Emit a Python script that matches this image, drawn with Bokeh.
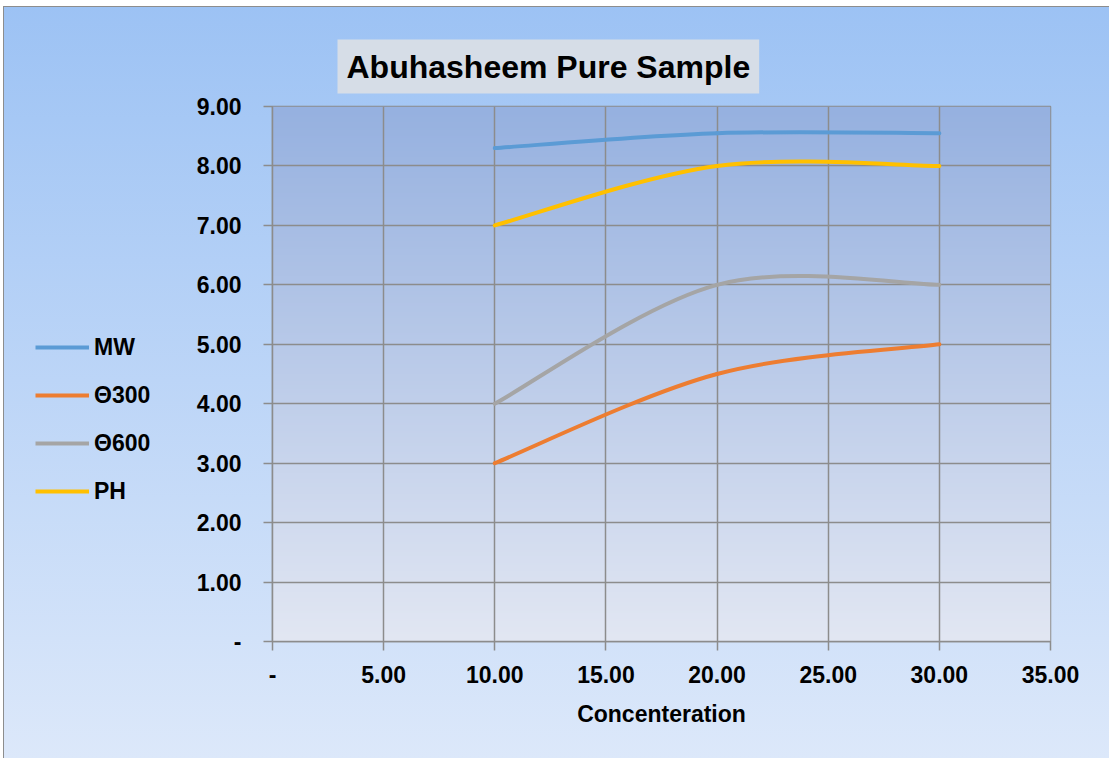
import numpy as np
from bokeh.plotting import figure
from bokeh.layouts import row
from bokeh.models import Range1d, FixedTicker, Legend, LegendItem, Title
from bokeh.embed import file_html
from bokeh.resources import INLINE

# ---------------- data ----------------
title_text = "Abuhasheem Pure Sample"
x_label = "Concenteration"
concentration = [10, 20, 30]
series_names = ["MW", "\u0398300", "\u0398600", "PH"]
mw = [8.30, 8.55, 8.55]
theta300 = [3.0, 4.5, 5.0]
theta600 = [4.0, 6.0, 6.0]
ph = [7.0, 8.0, 8.0]
x_ticks = [0, 5, 10, 15, 20, 25, 30, 35]
x_tick_labels = ["-", "5.00", "10.00", "15.00", "20.00", "25.00", "30.00", "35.00"]
y_ticks = [0, 1, 2, 3, 4, 5, 6, 7, 8, 9]
y_tick_labels = ["-", "1.00", "2.00", "3.00", "4.00", "5.00", "6.00", "7.00", "8.00", "9.00"]

colors = ["#5b9bd5", "#ed7d31", "#a5a5a5", "#ffc000"]
FONT = "Liberation Sans"
GRID = "#8c8c8c"

outer_bg = ("linear-gradient(#8d8d8d,#8d8d8d) 3px 6px / 1px 100% no-repeat, "
            "linear-gradient(#8d8d8d,#8d8d8d) 3px 6px / 100% 1px no-repeat, "
            "linear-gradient(#ffffff,#ffffff) 0 0 / 100% 6px no-repeat, "
            "linear-gradient(#ffffff,#ffffff) 0 0 / 3px 100% no-repeat, "
            "linear-gradient(#9cc2f4, #dce8fa)")

LEG_W = 180
W, H = 1109, 758

p = figure(width=W - LEG_W, height=H, output_backend="svg", toolbar_location=None,
           x_range=Range1d(x_ticks[0], x_ticks[-1]), y_range=Range1d(y_ticks[0], y_ticks[-1]),
           min_border_left=272 - LEG_W, min_border_right=59, min_border_top=106,
           min_border_bottom=117,
           border_fill_color=None, background_fill_color=None,
           outline_line_color=GRID, outline_line_width=1.5)

# plot-area gradient
n = 256
t = np.linspace(0, 1, n)[:, None]
top = np.array([0x96, 0xb1, 0xe0], dtype=float)
bot = np.array([0xe2, 0xe7, 0xf3], dtype=float)
cols = bot + (top - bot) * t
img = np.empty((n, 2), dtype=np.uint32)
view = img.view(dtype=np.uint8).reshape((n, 2, 4))
for k in range(3):
    view[:, :, k] = np.repeat(cols[:, k:k + 1], 2, axis=1).astype(np.uint8)
view[:, :, 3] = 255
p.image_rgba(image=[img], x=x_ticks[0], y=y_ticks[0],
             dw=x_ticks[-1] - x_ticks[0], dh=y_ticks[-1] - y_ticks[0], level="image")

# axes
for ax, ticks, labels in ((p.xaxis, x_ticks, x_tick_labels), (p.yaxis, y_ticks, y_tick_labels)):
    ax.ticker = FixedTicker(ticks=ticks)
    ax.major_label_overrides = dict(zip(ticks, labels))
    ax.major_label_text_font = FONT
    ax.major_label_text_font_style = "bold"
    ax.major_label_text_font_size = "23px"
    ax.major_label_text_color = "black"
    ax.axis_line_color = GRID
    ax.axis_line_width = 1.5
    ax.major_tick_line_color = GRID
    ax.major_tick_line_width = 1.5
    ax.major_tick_in = 0
    ax.major_tick_out = 9
    ax.minor_tick_line_color = None

p.yaxis.major_label_standoff = 22
p.xaxis.major_label_standoff = 15
p.xaxis.axis_label = x_label
p.xaxis.axis_label_text_font = FONT
p.xaxis.axis_label_text_font_style = "bold"
p.xaxis.axis_label_text_font_size = "23px"
p.xaxis.axis_label_text_color = "black"
p.xaxis.axis_label_standoff = 15

p.grid.grid_line_color = GRID
p.grid.grid_line_width = 1.5


def smooth_segments(xs, ys):
    """Bezier control points (Catmull-Rom style smoothing, like Excel's smoothed line)."""
    m = len(xs)
    x0, y0, x1, y1, cx0, cy0, cx1, cy1 = [], [], [], [], [], [], [], []
    for i in range(m - 1):
        pa = (xs[max(i - 1, 0)], ys[max(i - 1, 0)])
        p1 = (xs[i], ys[i])
        p2 = (xs[i + 1], ys[i + 1])
        pb = (xs[min(i + 2, m - 1)], ys[min(i + 2, m - 1)])
        x0.append(p1[0]); y0.append(p1[1]); x1.append(p2[0]); y1.append(p2[1])
        cx0.append(p1[0] + (p2[0] - pa[0]) / 6); cy0.append(p1[1] + (p2[1] - pa[1]) / 6)
        cx1.append(p2[0] - (pb[0] - p1[0]) / 6); cy1.append(p2[1] - (pb[1] - p1[1]) / 6)
    return dict(x0=x0, y0=y0, x1=x1, y1=y1, cx0=cx0, cy0=cy0, cx1=cx1, cy1=cy1)


# legend figure (left strip, no axes)
lf = figure(width=LEG_W, height=H, output_backend="svg", toolbar_location=None,
            x_axis_type=None, y_axis_type=None, min_border=0,
            border_fill_color=None, background_fill_color=None, outline_line_color=None)
lf.grid.visible = False

items = []
for name, ys, c in zip(series_names, [mw, theta300, theta600, ph], colors):
    seg = smooth_segments(concentration, ys)
    p.bezier(source=seg, x0="x0", y0="y0", x1="x1", y1="y1", cx0="cx0", cy0="cy0",
             cx1="cx1", cy1="cy1", line_color=c, line_width=4, line_cap="round")
    # legend key renderer (hidden in the strip itself, only its legend glyph is drawn)
    r = lf.line(x=concentration, y=ys, line_color=c, line_width=4, visible=False)
    items.append(LegendItem(label=name, renderers=[r]))

legend = Legend(items=items, location=(35, 136), orientation="vertical",
                glyph_width=54, glyph_height=28, label_height=28, spacing=20,
                label_standoff=5, padding=0, margin=0,
                label_text_font=FONT, label_text_font_style="bold",
                label_text_font_size="23px", label_text_color="black",
                background_fill_alpha=0, border_line_color=None,
                inactive_fill_alpha=0)
lf.add_layout(legend, "center")

title = Title(text=title_text, align="left", offset=65, standoff=26,
              text_font=FONT, text_font_style="bold", text_font_size="32px",
              text_color="black", background_fill_color="#d6dde7", padding=9)
p.add_layout(title, "above")

layout = row(lf, p, spacing=0, styles={"background": outer_bg})

open("out.html", "w").write(file_html(layout, INLINE))
